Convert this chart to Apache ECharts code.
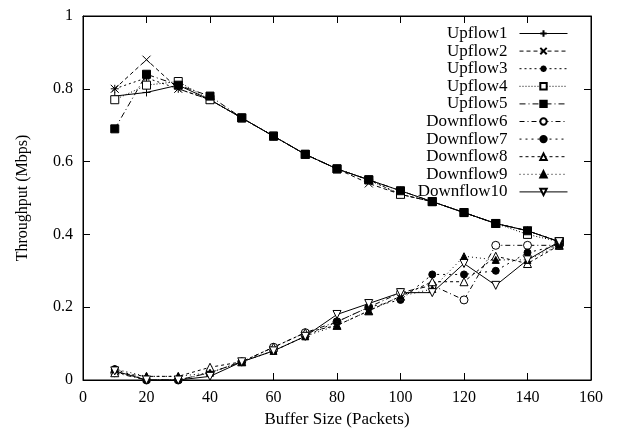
<!DOCTYPE html>
<html>
<head>
<meta charset="utf-8">
<script src="https://cdn.jsdelivr.net/npm/echarts@6/dist/echarts.min.js"></script>
<style>
  html, body { margin: 0; padding: 0; background: #fff; }
  #chart { width: 620px; height: 439px; }
</style>
</head>
<body>
<div id="chart"></div>
<script>
var bufferSizes = [10, 20, 30, 40, 50, 60, 70, 80, 90, 100, 110, 120, 130, 140, 150]

var upflow1 = [0.78, 0.79, 0.81, 0.77, 0.72, 0.67, 0.62, 0.58, 0.55, 0.52, 0.49, 0.46, 0.43, 0.41, 0.38]
var upflow2 = [0.80, 0.88, 0.80, 0.77, 0.72, 0.67, 0.62, 0.58, 0.54, 0.51, 0.49, 0.46, 0.43, 0.41, 0.38]
var upflow3 = [0.80, 0.83, 0.80, 0.77, 0.72, 0.67, 0.62, 0.58, 0.55, 0.51, 0.49, 0.46, 0.43, 0.41, 0.38]
var upflow4 = [0.77, 0.81, 0.82, 0.77, 0.72, 0.67, 0.62, 0.58, 0.55, 0.51, 0.49, 0.46, 0.43, 0.40, 0.38]
var upflow5 = [0.69, 0.84, 0.81, 0.78, 0.72, 0.67, 0.62, 0.58, 0.55, 0.52, 0.49, 0.46, 0.43, 0.41, 0.38]
var downflow6 = [0.02, 0.00, 0.00, 0.02, 0.05, 0.09, 0.13, 0.16, 0.20, 0.24, 0.26, 0.22, 0.37, 0.37, 0.37]
var downflow7 = [0.03, 0.00, 0.00, 0.02, 0.05, 0.08, 0.12, 0.16, 0.20, 0.22, 0.29, 0.29, 0.30, 0.35, 0.37]
var downflow8 = [0.02, 0.01, 0.01, 0.035, 0.05, 0.09, 0.13, 0.15, 0.19, 0.23, 0.27, 0.27, 0.34, 0.32, 0.37]
var downflow9 = [0.03, 0.01, 0.01, 0.02, 0.05, 0.08, 0.12, 0.15, 0.19, 0.23, 0.25, 0.34, 0.33, 0.33, 0.37]
var downflow10 = [0.025, 0.00, 0.00, 0.01, 0.05, 0.08, 0.12, 0.18, 0.21, 0.24, 0.24, 0.32, 0.26, 0.33, 0.38]

var serif = 'Liberation Serif'

// marker shapes, gnuplot style
var PLUS = 'path://M0,5H10M5,0V10'
var CROSS = 'path://M0,0L10,10M10,0L0,10'
var STAR = 'path://M0,5H10M5,0V10M1.5,1.5L8.5,8.5M8.5,1.5L1.5,8.5'
var DOWN_TRI = 'path://M0,0L10,0L5,9Z'

function mkSeries (name, values, symbol, size, fill, dash) {
  return {
    name: name,
    type: 'line',
    data: bufferSizes.map((x, i) => [x, values[i]]),
    symbol: symbol,
    symbolSize: size,
    showAllSymbol: true,
    lineStyle: { color: '#000', width: 1, type: dash },
    itemStyle: { color: fill, borderColor: '#000', borderWidth: 1 },
    emphasis: { disabled: true }
  }
}

var series = [
  mkSeries('Upflow1', upflow1, PLUS, 8, '#000', 'solid'),
  mkSeries('Upflow2', upflow2, CROSS, 8, '#000', [4, 3]),
  mkSeries('Upflow3', upflow3, STAR, 8, '#000', [2, 3]),
  mkSeries('Upflow4', upflow4, 'rect', 8, '#fff', [1, 2]),
  mkSeries('Upflow5', upflow5, 'rect', 8, '#000', [6, 3, 1, 3]),
  mkSeries('Downflow6', downflow6, 'circle', 8, '#fff', [5, 3, 1, 3]),
  mkSeries('Downflow7', downflow7, 'circle', 7, '#000', [2, 4]),
  mkSeries('Downflow8', downflow8, 'triangle', 8, '#fff', [3, 3]),
  mkSeries('Downflow9', downflow9, 'triangle', 7, '#000', [1, 3]),
  mkSeries('Downflow10', downflow10, DOWN_TRI, 8, '#fff', 'solid')
]

var chart = echarts.init(document.getElementById('chart'), null, {renderer: 'canvas'})

var tickOpts = { show: true, inside: true, length: 7, lineStyle: { color: '#000' } }
var lineOpts = { show: true, onZero: false, lineStyle: { color: '#000', width: 1 } }
var labelOpts = { color: '#000', fontFamily: serif, fontSize: 16, margin: 10 }

chart.setOption({
  animation: false,
  backgroundColor: '#fff',
  grid: {
    left: 83,
    right: 29,
    top: 16,
    bottom: 59,
    show: true,
    borderColor: '#000',
    borderWidth: 1
  },
  legend: {
    orient: 'vertical',
    right: 47,
    top: 20,
    align: 'right',
    itemWidth: 48,
    itemHeight: 8,
    itemGap: 0.6,
    lineStyle: { width: 1 },
    textStyle: { color: '#000', fontFamily: serif, fontSize: 17, lineHeight: 17, padding: [0, 7, 0, 0] },
    data: series.map(s => s.name)
  },
  xAxis: [{
    type: 'value',
    min: 0,
    max: 160,
    interval: 20,
    name: 'Buffer Size (Packets)',
    nameLocation: 'middle',
    nameGap: 29,
    nameTextStyle: { color: '#000', fontFamily: serif, fontSize: 17 },
    axisLine: lineOpts,
    axisTick: tickOpts,
    axisLabel: labelOpts,
    splitLine: { show: false }
  }, {
    type: 'value',
    position: 'top',
    min: 0,
    max: 160,
    interval: 20,
    axisLine: lineOpts,
    axisTick: tickOpts,
    axisLabel: { show: false },
    splitLine: { show: false }
  }],
  yAxis: [{
    type: 'value',
    min: 0,
    max: 1,
    interval: 0.2,
    name: 'Throughput (Mbps)',
    nameLocation: 'middle',
    nameGap: 52,
    nameTextStyle: { color: '#000', fontFamily: serif, fontSize: 16 },
    axisLine: lineOpts,
    axisTick: tickOpts,
    axisLabel: labelOpts,
    splitLine: { show: false }
  }, {
    type: 'value',
    position: 'right',
    min: 0,
    max: 1,
    interval: 0.2,
    axisLine: lineOpts,
    axisTick: tickOpts,
    axisLabel: { show: false },
    splitLine: { show: false }
  }],
  series: series
})
</script>
</body>
</html>
